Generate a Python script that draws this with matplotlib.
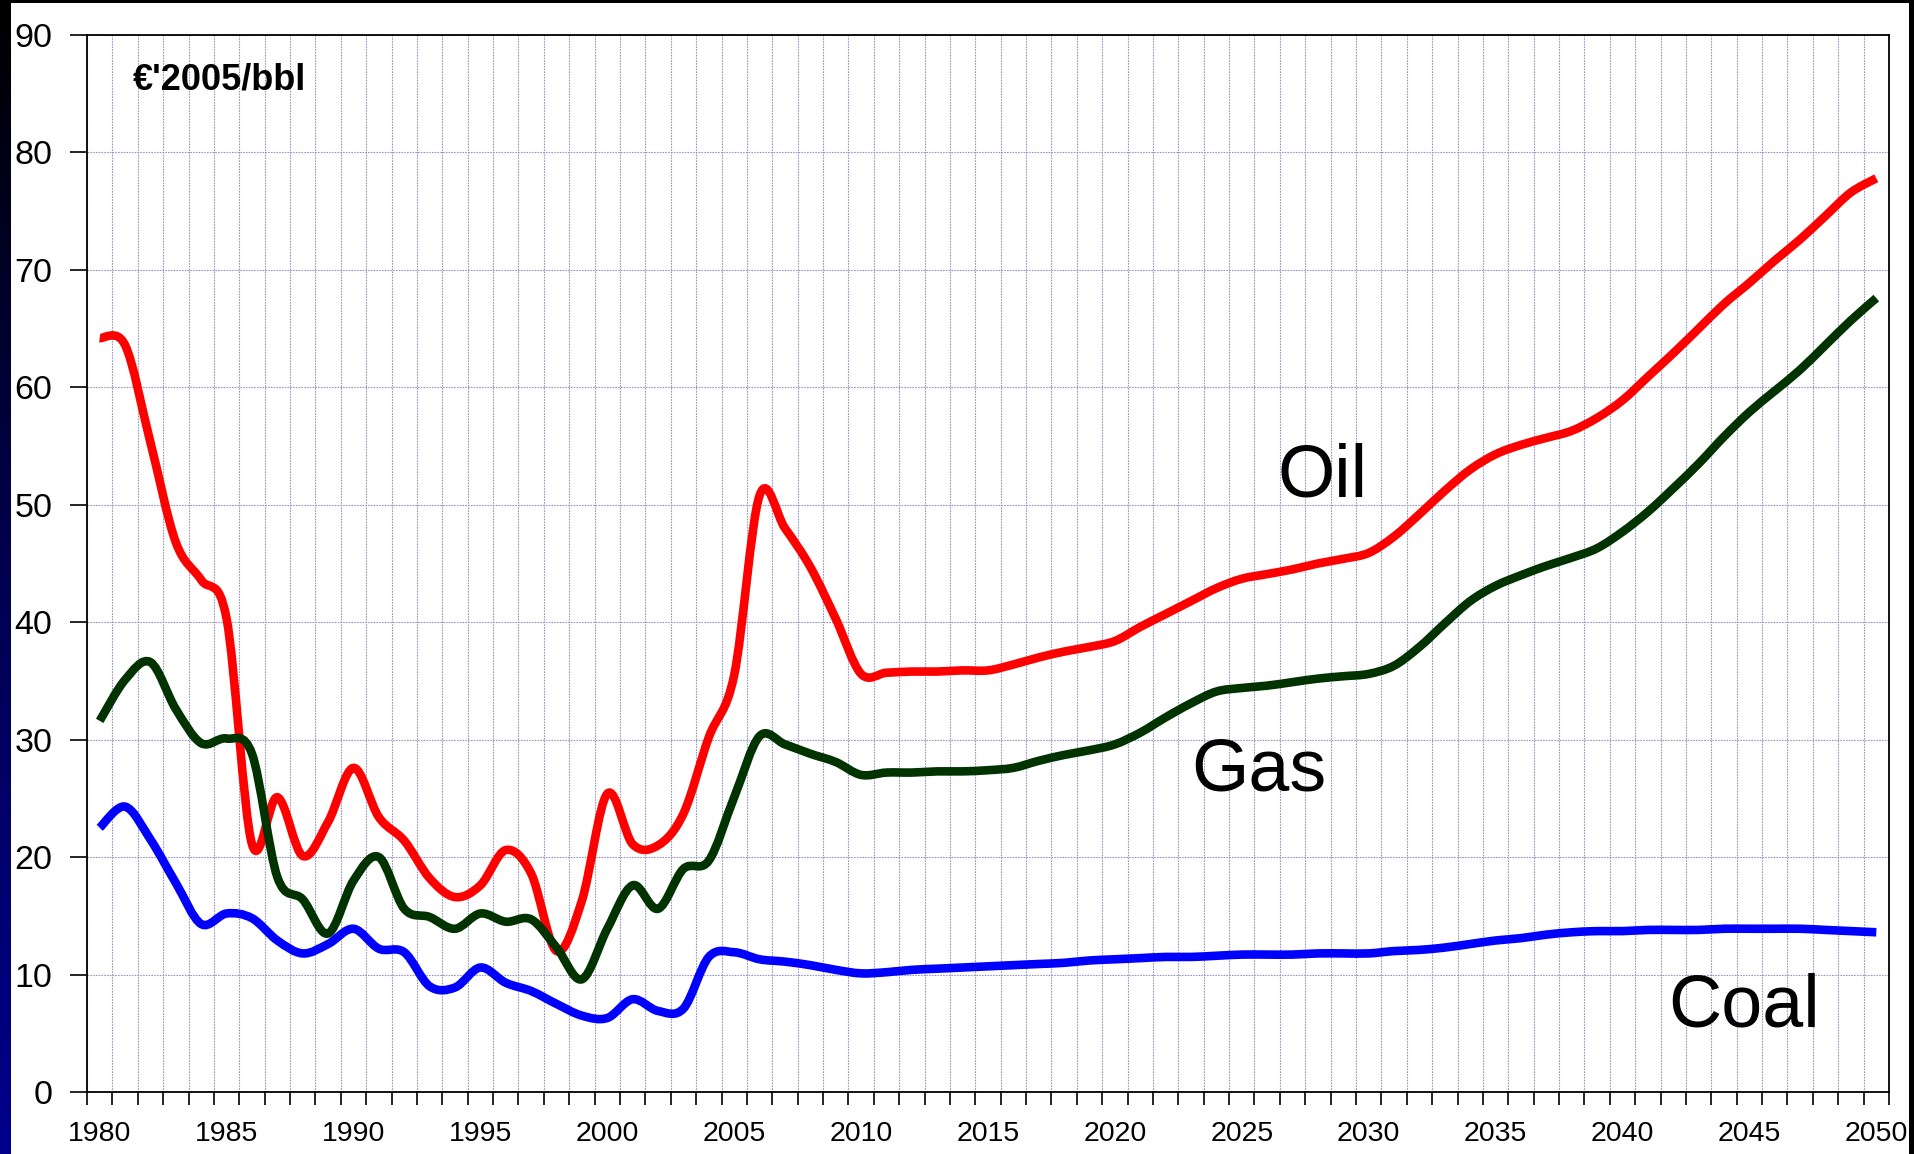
import numpy as np
import matplotlib
matplotlib.use('Agg')
import matplotlib.pyplot as plt
from matplotlib.path import Path
from matplotlib.patches import PathPatch, Rectangle
from matplotlib.colors import LinearSegmentedColormap

plt.rcParams['font.family'] = ['Liberation Sans', 'DejaVu Sans']

# data, €'2005/bbl
years = list(range(1980, 2051))
oil = [64.2, 63.6, 55.3, 46.8, 43.6, 40.3, 21.1, 25.1, 20.1, 23.0,
       27.6, 23.4, 21.4, 18.2, 16.6, 17.6, 20.6, 18.6, 12.0, 16.3,
       25.4, 21.1, 21.0, 23.7, 30.2, 35.5, 50.8, 48.0, 44.7, 40.3,
       35.6, 35.7, 35.8, 35.8, 35.9, 35.9, 36.4, 37.0, 37.5, 37.9,
       38.4, 39.6, 40.7, 41.8, 42.9, 43.7, 44.1, 44.5, 45.0, 45.4,
       45.9, 47.3, 49.2, 51.2, 53.0, 54.3, 55.1, 55.7, 56.3, 57.4,
       58.9, 60.9, 62.9, 65.0, 67.1, 68.9, 70.8, 72.6, 74.6, 76.6, 77.8]
gas = [31.6, 35.1, 36.6, 32.6, 29.7, 30.1, 28.8, 18.3, 16.4, 13.5,
       18.0, 20.0, 15.6, 14.9, 13.9, 15.2, 14.5, 14.7, 12.3, 9.6,
       13.9, 17.6, 15.6, 19.0, 19.7, 25.1, 30.3, 29.6, 28.8, 28.1,
       27.0, 27.2, 27.2, 27.3, 27.3, 27.4, 27.6, 28.2, 28.7, 29.1,
       29.6, 30.6, 31.9, 33.1, 34.1, 34.4, 34.6, 34.9, 35.2, 35.4,
       35.6, 36.3, 37.9, 39.9, 41.8, 43.1, 44.0, 44.8, 45.5, 46.3,
       47.7, 49.4, 51.4, 53.5, 55.8, 57.9, 59.7, 61.5, 63.6, 65.7, 67.6]
coal = [22.5, 24.3, 21.5, 17.8, 14.3, 15.2, 14.8, 12.9, 11.8, 12.6,
        13.9, 12.2, 11.9, 9.0, 8.9, 10.6, 9.3, 8.6, 7.5, 6.5,
        6.3, 7.9, 6.9, 7.1, 11.5, 11.9, 11.3, 11.1, 10.8, 10.4,
        10.1, 10.2, 10.4, 10.5, 10.6, 10.7, 10.8, 10.9, 11.0, 11.2,
        11.3, 11.4, 11.5, 11.5, 11.6, 11.7, 11.7, 11.7, 11.8, 11.8,
        11.8, 12.0, 12.1, 12.3, 12.6, 12.9, 13.1, 13.4, 13.6, 13.7,
        13.7, 13.8, 13.8, 13.8, 13.9, 13.9, 13.9, 13.9, 13.8, 13.7, 13.6]
year_labels = list(range(1980, 2051, 5))


def smooth_path(xs, ys):
    # excel-like smoothed line: catmull-rom as cubic bezier
    n = len(xs)
    verts = [(xs[0], ys[0])]
    codes = [Path.MOVETO]
    for i in range(n - 1):
        i0, i3 = max(i - 1, 0), min(i + 2, n - 1)
        c1 = (xs[i] + (xs[i + 1] - xs[i0]) / 6.0, ys[i] + (ys[i + 1] - ys[i0]) / 6.0)
        c2 = (xs[i + 1] - (xs[i3] - xs[i]) / 6.0, ys[i + 1] - (ys[i3] - ys[i]) / 6.0)
        verts += [c1, c2, (xs[i + 1], ys[i + 1])]
        codes += [Path.CURVE4] * 3
    return Path(verts, codes)


W, H = 1915, 1154
fig = plt.figure(figsize=(W / 100, H / 100), dpi=100, facecolor='black')

# white slide area + blue strip on the left
fig.patches.append(Rectangle((11 / W, 0), (1909 - 11) / W, (H - 3) / H,
                             transform=fig.transFigure, facecolor='white',
                             edgecolor='none', zorder=-5))
strip = fig.add_axes([0, 0, 11 / W, 1])
cmap = LinearSegmentedColormap.from_list('strip', ['#000000', '#000050', '#00008c'])
strip.imshow(np.linspace(0, 1, 256).reshape(-1, 1), aspect='auto', cmap=cmap)
strip.axis('off')

ax = fig.add_axes([87 / W, (H - 1092) / H, (1889 - 87) / W, (1092 - 35) / H])
ax.set_facecolor('white')

for vals, col in [(oil, '#ff0000'), (gas, '#003300'), (coal, '#0000ff')]:
    ax.add_patch(PathPatch(smooth_path(years, vals), fill=False, edgecolor=col,
                           lw=6.2, capstyle='butt', joinstyle='round', zorder=3))

ax.set_xlim(1979.5, 2050.5)
ax.set_ylim(0, 90)

ax.set_xticks(np.arange(1979.5, 2051, 1))
ax.set_xticks(year_labels, minor=True)
ax.set_xticklabels([str(y) for y in year_labels], minor=True, fontsize=20.5)
ax.tick_params(axis='x', which='major', length=9, width=1.2, labelbottom=False)
ax.tick_params(axis='x', which='minor', length=0, pad=21)
ax.set_yticks(np.arange(0, 91, 10))
ax.tick_params(axis='y', length=12, width=1.2, pad=13, labelsize=24.5)

ax.grid(True, which='major', color='#9898c8', lw=0.8, linestyle=(0, (1.5, 1)), zorder=1)
ax.set_axisbelow(True)
for s in ax.spines.values():
    s.set_linewidth(1.3)
    s.set_color('black')

ax.text(0.0255, 0.948, "€'2005/bbl", transform=ax.transAxes, fontsize=26,
        fontweight='bold', ha='left', va='baseline')
ax.text(2026.4, 50.7, 'Oil', fontsize=53, ha='left', va='baseline')
ax.text(2023.0, 25.7, 'Gas', fontsize=53, ha='left', va='baseline')
ax.text(2041.8, 5.6, 'Coal', fontsize=53, ha='left', va='baseline')

fig.savefig('out.png', dpi=100, facecolor='black')
